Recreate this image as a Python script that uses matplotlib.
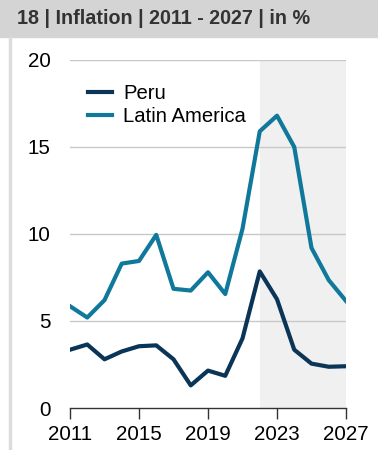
import matplotlib.pyplot as plt
import numpy as np

plt.rcParams['font.family'] = ['Liberation Sans', 'DejaVu Sans']

years = np.arange(2011, 2028)
peru = [3.35, 3.65, 2.8, 3.25, 3.55, 3.6, 2.8, 1.3, 2.15, 1.85,
        4.0, 7.85, 6.25, 3.35, 2.55, 2.37, 2.4]
latam = [5.85, 5.2, 6.2, 8.3, 8.45, 9.95, 6.85, 6.75, 7.8, 6.55,
         10.3, 15.9, 16.8, 15.0, 9.2, 7.35, 6.15]
xticks = [2011, 2015, 2019, 2023, 2027]
yticks = [0, 5, 10, 15, 20]
forecast_start = 2022

W, H = 378, 450
fig = plt.figure(figsize=(W / 100, H / 100), dpi=100)

# title bar and left rule
fig.patches.append(plt.Rectangle((0, 1 - 37 / H), 1, 37 / H, transform=fig.transFigure,
                                 color='#d4d4d4', zorder=0))
fig.patches.append(plt.Rectangle((9 / W, 0), 2 / W, 1 - 37 / H, transform=fig.transFigure,
                                 color='#dcdcdc', zorder=0))
fig.text(17 / W, 1 - 19 / H, '18 | Inflation | 2011 - 2027 | in %', fontsize=14.2,
         fontweight='bold', color='#333333', va='center', ha='left')

ax = fig.add_axes([70 / W, 1 - 408 / H, 276 / W, 348 / H])
ax.axvspan(forecast_start, years[-1], color='#f0f0f0', lw=0, zorder=0)
for y in yticks[1:]:
    ax.axhline(y, color='#c8c8c8', lw=1, zorder=1)

ax.plot(years, peru, color='#0b3557', lw=3, label='Peru', zorder=3)
ax.plot(years, latam, color='#10789b', lw=3, label='Latin America', zorder=3)

ax.set_xlim(years[0], years[-1])
ax.set_ylim(0, 20)
ax.set_xticks(xticks)
ax.set_yticks(yticks)
for s in ['top', 'right', 'left']:
    ax.spines[s].set_visible(False)
ax.spines['bottom'].set_color('#333333')
ax.spines['bottom'].set_linewidth(1)
ax.tick_params(axis='x', direction='out', length=8, width=1, color='#333333',
               labelsize=14.8, pad=4)
ax.tick_params(axis='y', length=0, labelsize=14.8, pad=14)

leg = ax.legend(loc='upper left', bbox_to_anchor=(0.035, 0.955), frameon=False,
                fontsize=14.6, handlelength=1.2, handletextpad=0.55,
                labelspacing=0.2, borderaxespad=0)

fig.savefig('out.png', dpi=100)
